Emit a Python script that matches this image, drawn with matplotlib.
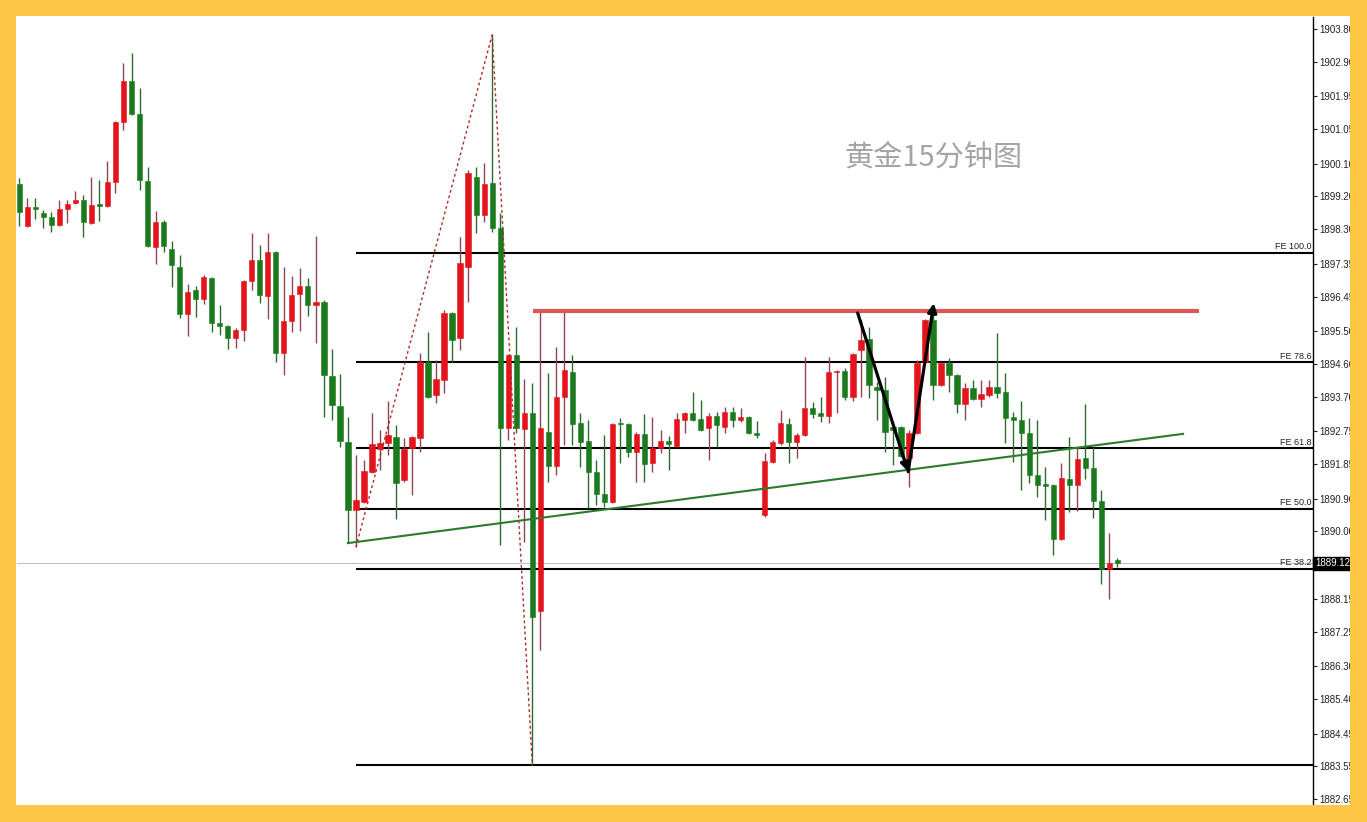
import matplotlib
matplotlib.use("Agg")
import matplotlib.pyplot as plt
from matplotlib.patches import Rectangle
import numpy as np

# ---------------- data ----------------
opens = [1899.54, 1898.39, 1898.91, 1898.75, 1898.64, 1898.42, 1898.86, 1899.02, 1899.10, 1898.47,
         1898.97, 1898.94, 1899.60, 1901.25, 1902.37, 1901.47, 1899.62, 1897.81, 1898.50, 1897.76,
         1897.26, 1895.97, 1896.63, 1896.38, 1896.96, 1895.73, 1895.64, 1895.31, 1895.53, 1896.88,
         1897.46, 1896.47, 1897.68, 1894.90, 1895.78, 1896.52, 1896.74, 1896.22, 1896.30, 1894.27,
         1893.45, 1892.46, 1890.59, 1890.81, 1891.63, 1892.26, 1892.43, 1892.59, 1891.41, 1892.29,
         1892.57, 1894.65, 1893.75, 1894.16, 1896.00, 1895.31, 1897.26, 1899.73, 1898.69, 1899.57,
         1898.33, 1892.84, 1894.85, 1892.81, 1893.25, 1887.81, 1892.73, 1891.80, 1893.69, 1894.38,
         1892.98, 1892.48, 1891.63, 1891.03, 1890.81, 1892.98, 1892.95, 1892.18, 1892.68, 1891.88,
         1892.29, 1892.48, 1892.35, 1893.06, 1893.25, 1893.09, 1892.84, 1893.17, 1892.87, 1893.28,
         1893.06, 1893.14, 1892.70, 1890.45, 1891.91, 1892.43, 1892.95, 1892.46, 1892.65, 1893.39,
         1893.25, 1893.17, 1894.38, 1894.41, 1893.69, 1894.98, 1895.29, 1893.97, 1893.89, 1892.87,
         1892.87, 1892.02, 1892.70, 1894.65, 1895.81, 1894.02, 1894.63, 1894.30, 1893.50, 1893.94,
         1893.64, 1893.75, 1893.97, 1893.83, 1893.14, 1893.06, 1892.70, 1891.55, 1891.28, 1891.28,
         1889.79, 1891.44, 1891.28, 1892.02, 1891.74, 1890.84, 1888.97, 1889.22]
highs = [1899.71, 1899.16, 1899.16, 1898.83, 1898.77, 1899.10, 1899.10, 1899.35, 1899.24, 1899.73,
         1899.65, 1900.17, 1901.27, 1902.87, 1903.14, 1902.18, 1900.01, 1898.80, 1898.55, 1897.98,
         1897.59, 1896.80, 1896.74, 1897.04, 1896.99, 1896.22, 1895.67, 1895.59, 1896.90, 1898.20,
         1897.87, 1898.20, 1897.70, 1897.26, 1897.02, 1897.24, 1896.96, 1898.11, 1896.36, 1895.01,
         1894.32, 1893.14, 1892.10, 1891.96, 1893.25, 1892.79, 1893.58, 1892.92, 1892.57, 1892.61,
         1894.90, 1895.48, 1894.71, 1896.08, 1896.03, 1898.09, 1899.93, 1900.01, 1900.12, 1903.64,
         1898.75, 1894.87, 1895.62, 1894.19, 1894.08, 1896.03, 1894.35, 1895.07, 1896.03, 1894.85,
         1893.25, 1893.06, 1891.96, 1892.65, 1892.98, 1893.12, 1892.98, 1892.73, 1893.23, 1893.14,
         1892.79, 1892.62, 1893.25, 1893.28, 1893.83, 1893.61, 1893.25, 1893.28, 1893.42, 1893.42,
         1893.39, 1893.17, 1893.03, 1892.16, 1892.51, 1893.34, 1893.12, 1892.70, 1894.79, 1893.56,
         1893.69, 1894.79, 1894.43, 1894.49, 1894.90, 1895.81, 1895.62, 1894.10, 1894.24, 1892.90,
         1892.90, 1892.79, 1894.71, 1895.84, 1896.00, 1894.65, 1894.76, 1894.32, 1894.08, 1894.16,
         1894.16, 1894.16, 1895.45, 1894.35, 1893.28, 1893.58, 1893.12, 1893.06, 1891.77, 1891.30,
         1891.88, 1892.59, 1892.32, 1893.50, 1892.32, 1891.14, 1889.96, 1889.27]
lows = [1898.39, 1898.36, 1898.58, 1898.33, 1898.22, 1898.39, 1898.47, 1898.99, 1898.09, 1898.44,
        1898.53, 1898.91, 1899.30, 1901.03, 1901.45, 1899.38, 1897.81, 1897.35, 1897.68, 1896.71,
        1895.86, 1895.37, 1895.89, 1896.25, 1895.48, 1895.40, 1895.01, 1895.04, 1895.23, 1896.63,
        1896.27, 1895.84, 1894.65, 1894.30, 1895.48, 1895.51, 1895.92, 1895.18, 1893.14, 1893.06,
        1892.32, 1889.68, 1889.57, 1890.78, 1891.61, 1891.69, 1892.10, 1890.34, 1891.36, 1891.00,
        1892.18, 1893.67, 1893.53, 1893.80, 1894.65, 1894.98, 1896.30, 1898.20, 1898.50, 1898.22,
        1889.63, 1892.51, 1892.70, 1889.71, 1883.59, 1886.74, 1891.36, 1891.55, 1892.37, 1892.37,
        1891.77, 1890.64, 1890.73, 1890.67, 1890.78, 1891.88, 1892.04, 1891.36, 1891.36, 1891.63,
        1892.16, 1891.69, 1892.32, 1892.70, 1893.04, 1892.77, 1891.96, 1892.32, 1892.70, 1892.87,
        1893.01, 1892.68, 1892.57, 1890.40, 1891.88, 1892.37, 1891.88, 1892.02, 1892.62, 1893.12,
        1893.01, 1892.98, 1893.25, 1893.61, 1893.58, 1893.69, 1893.67, 1893.06, 1892.18, 1891.82,
        1892.04, 1891.22, 1892.68, 1894.60, 1893.61, 1893.99, 1893.83, 1893.25, 1893.06, 1893.61,
        1893.42, 1893.69, 1893.67, 1892.43, 1891.91, 1891.14, 1891.33, 1890.95, 1890.31, 1889.35,
        1889.77, 1890.53, 1890.56, 1891.44, 1890.37, 1888.56, 1888.14, 1889.02]
closes = [1898.77, 1898.91, 1898.86, 1898.64, 1898.42, 1898.86, 1898.99, 1899.10, 1898.50, 1898.97,
          1898.94, 1899.60, 1901.25, 1902.37, 1901.47, 1899.65, 1897.84, 1898.50, 1897.84, 1897.32,
          1895.97, 1896.58, 1896.38, 1896.99, 1895.73, 1895.64, 1895.31, 1895.53, 1896.88, 1897.46,
          1896.49, 1897.68, 1894.90, 1895.78, 1896.49, 1896.74, 1896.22, 1896.30, 1894.30, 1893.47,
          1892.48, 1890.59, 1890.86, 1891.66, 1892.40, 1892.43, 1892.65, 1891.33, 1892.26, 1892.59,
          1894.65, 1893.69, 1894.19, 1896.00, 1895.26, 1897.37, 1899.84, 1898.69, 1899.54, 1898.33,
          1892.84, 1894.85, 1892.84, 1893.25, 1887.65, 1892.84, 1891.80, 1893.69, 1894.43, 1892.95,
          1892.46, 1891.63, 1891.03, 1890.81, 1892.95, 1892.95, 1892.18, 1892.68, 1891.85, 1892.29,
          1892.48, 1892.40, 1893.09, 1893.25, 1893.06, 1892.79, 1893.17, 1892.92, 1893.28, 1893.06,
          1893.14, 1892.70, 1892.65, 1891.94, 1892.46, 1892.98, 1892.46, 1892.65, 1893.39, 1893.23,
          1893.17, 1894.38, 1894.41, 1893.69, 1894.87, 1895.26, 1894.02, 1893.89, 1892.73, 1892.79,
          1892.07, 1892.70, 1894.63, 1895.81, 1894.02, 1894.63, 1894.30, 1893.50, 1893.94, 1893.64,
          1893.78, 1893.97, 1893.80, 1893.12, 1893.06, 1892.70, 1891.55, 1891.28, 1891.25, 1889.79,
          1891.47, 1891.28, 1891.99, 1891.74, 1890.84, 1888.97, 1889.13, 1889.12]

price_ticks = [1903.80, 1902.90, 1901.95, 1901.05, 1900.10, 1899.20, 1898.30, 1897.35, 1896.45,
               1895.50, 1894.60, 1893.70, 1892.75, 1891.85, 1890.90, 1890.00, 1888.15, 1887.25,
               1886.30, 1885.40, 1884.45, 1883.55, 1882.65]
last_price = 1889.12

fe_ratios = [1.0, 0.786, 0.618, 0.5, 0.382, 0.0]
fe_labels = ["FE 100.0", "FE 78.6", "FE 61.8", "FE 50.0", "FE 38.2", ""]
fe_idx = [42, 59, 64]            # A (low), B (high), C (low) bar indices

resist_x = [64.1, 147.2]
resist_y = [1896.05, 1896.05]
trend_x = [41, 145.2]
trend_y = [1889.68, 1892.68]
arrow_x = [104.6, 110.9, 114.1]
arrow_y = [1896.00, 1891.64, 1896.27]

title = "黄金15分钟图"

# ---------------- figure ----------------
W, H = 1367, 822
fig = plt.figure(figsize=(W / 100, H / 100), dpi=100)
fig.patch.set_facecolor("white")
ax = fig.add_axes([17 / W, 17 / H, 1296 / W, 788 / H])
ax.set_facecolor("white")

n = len(opens)
x = np.arange(n)
o = np.array(opens); h = np.array(highs); l = np.array(lows); c = np.array(closes)
up = c >= o

xmin = -0.287
xmax = xmin + 1296 / 8.015
ax.set_xlim(xmin, xmax)
ax.set_ylim(1882.487, 1904.129)

RED = "#E3141C"
GREEN = "#1C7A1E"
RED_WICK = "#8E4552"
GREEN_WICK = "#2E6B2E"

# reference / analysis lines (under candles)
ax.axhline(last_price, color="#BDBDBD", lw=0.7, zorder=1)

A = lows[fe_idx[0]]; B = highs[fe_idx[1]]; C = lows[fe_idx[2]]
levels = [C + (B - A) * r for r in fe_ratios]
ax.hlines(levels, fe_idx[0], xmax, color="black", lw=1.5, zorder=2)
for lev, lab in zip(levels, fe_labels):
    if lab:
        ax.annotate(lab, xy=(1.0, lev), xycoords=ax.get_yaxis_transform(),
                    xytext=(-1, 1.2), textcoords="offset points",
                    ha="right", va="bottom", fontsize=6.5, family="Liberation Sans",
                    color="#222222", zorder=6)

# candles
ax.vlines(x[up], l[up], h[up], color=RED_WICK, lw=1.0, zorder=3)
ax.vlines(x[~up], l[~up], h[~up], color=GREEN_WICK, lw=1.0, zorder=3)
body_bottom = np.minimum(o, c)
body_h = np.maximum(np.abs(c - o), 0.04)
ax.bar(x[up], body_h[up], bottom=body_bottom[up], width=0.66, color=RED,
       edgecolor=RED, lw=0.4, zorder=4)
ax.bar(x[~up], body_h[~up], bottom=body_bottom[~up], width=0.66, color=GREEN,
       edgecolor=GREEN, lw=0.4, zorder=4)

# fibonacci expansion path
ax.plot(fe_idx, [A, B, C], color="#B02A2A", lw=1.0, ls=(0, (2, 2)), zorder=5)

# trend / resistance lines
ax.plot(resist_x, resist_y, color="#DD5656", lw=3.0, solid_capstyle="butt", zorder=5)
ax.plot(trend_x, trend_y, color="#2C7A2C", lw=1.5, zorder=5)

# arrows
for i in range(2):
    ax.annotate("", xy=(arrow_x[i + 1], arrow_y[i + 1]), xytext=(arrow_x[i], arrow_y[i]),
                arrowprops=dict(arrowstyle="-|>", color="black", lw=2.3,
                                mutation_scale=13, shrinkA=0, shrinkB=0), zorder=7)

# title text
ax.text(0.7068, 0.8211, title, transform=ax.transAxes, ha="center", va="center",
        fontsize=21, color="#A4A4A4", family=["Noto Sans CJK SC", "DejaVu Sans"], zorder=6)

# axes styling
for s in ["left", "top", "bottom"]:
    ax.spines[s].set_visible(False)
ax.spines["right"].set_linewidth(1.0)
ax.set_xticks([])
ax.yaxis.tick_right()
ax.set_yticks(price_ticks)
ax.set_yticklabels([f"{v:.2f}" for v in price_ticks])
ax.tick_params(axis="y", direction="out", length=3, width=0.8, pad=1.5,
               labelsize=7, colors="#222222")
for t in ax.get_yticklabels():
    t.set_family("Liberation Sans")

# current price box
ax.text(1.0 + 2 / 1296, last_price, f"{last_price:.2f}", transform=ax.get_yaxis_transform(),
        ha="left", va="center", fontsize=7, color="white", family="Liberation Sans",
        bbox=dict(boxstyle="square,pad=0.2", fc="black", ec="black"), clip_on=False, zorder=8)

# yellow frame
YEL = "#FDC644"
for (x0, y0, w, hh) in [(0, 0, 16, H), (1350, 0, W - 1350, H), (0, 0, W, 17), (0, H - 16, W, 16)]:
    fig.add_artist(Rectangle((x0 / W, y0 / H), w / W, hh / H, transform=fig.transFigure,
                             facecolor=YEL, edgecolor="none", zorder=100))

fig.savefig("out.png", dpi=100, facecolor="white")
